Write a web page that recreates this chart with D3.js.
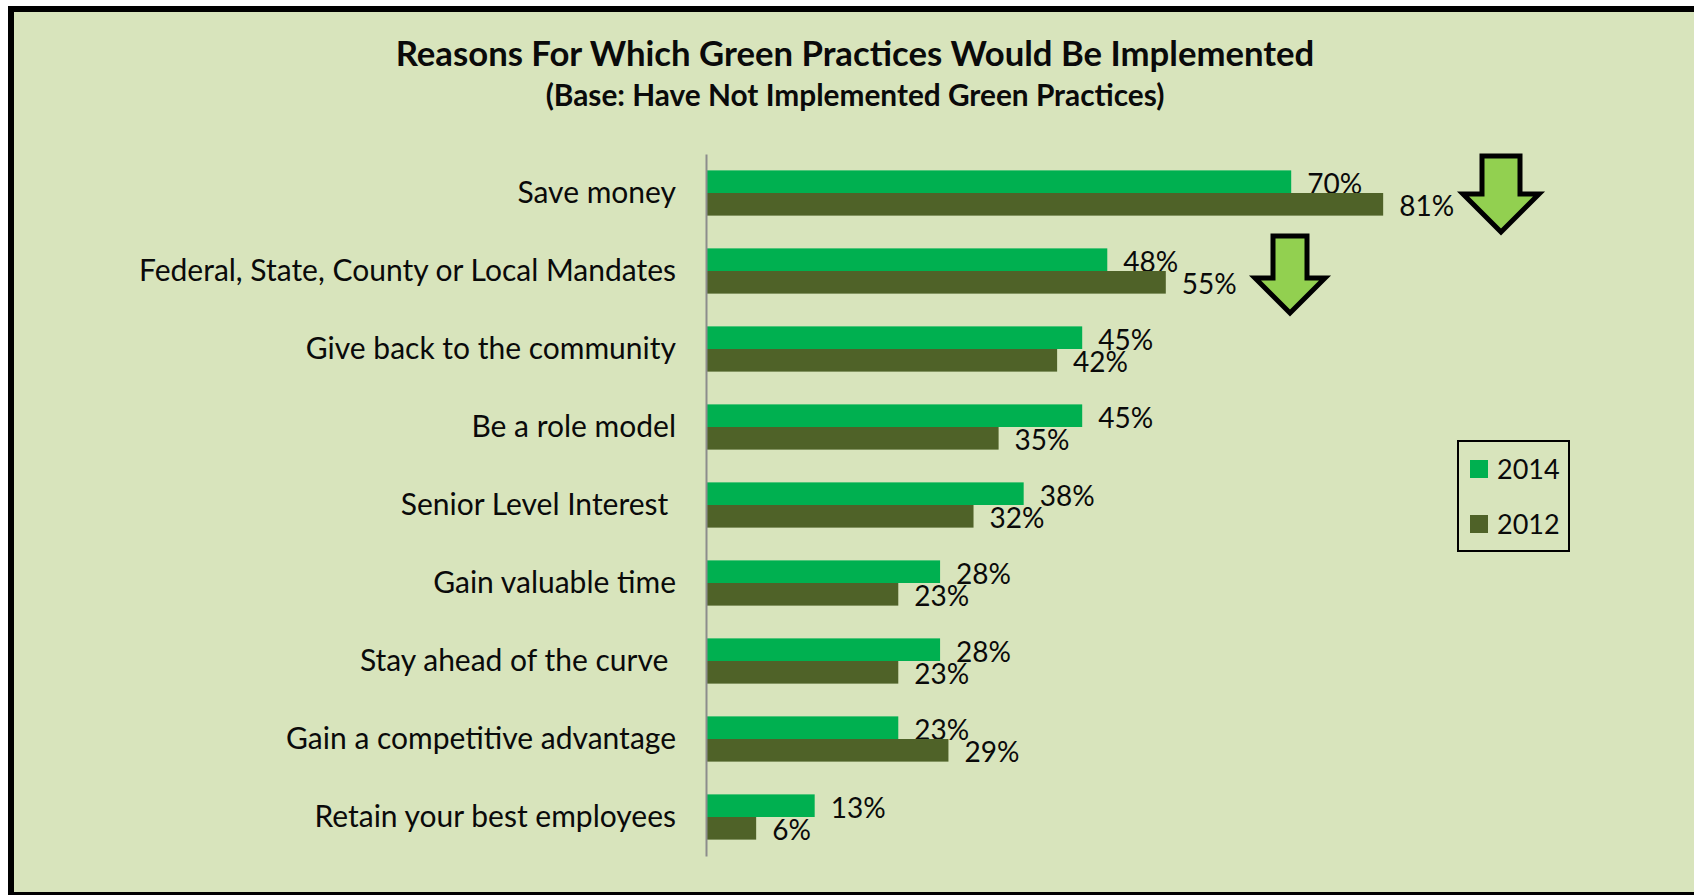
<!DOCTYPE html>
<html>
<head>
<meta charset="utf-8">
<script src="https://cdn.jsdelivr.net/npm/d3@7"></script>
<style>
  html, body { margin: 0; padding: 0; background: #fff; }
  svg { display: block; }
  text { font-family: Lato, "Open Sans", sans-serif; fill: #0a0a0a; }
</style>
</head>
<body>
<svg id="chart" width="1694" height="895"></svg>
<script>
const categories = [
  "Save money",
  "Federal, State, County or Local Mandates",
  "Give back to the community",
  "Be a role model",
  "Senior Level Interest ",
  "Gain valuable time",
  "Stay ahead of the curve ",
  "Gain a competitive advantage",
  "Retain your best employees"
];
const seriesNames = ["2014", "2012"];
const values2014 = [70, 48, 45, 45, 38, 28, 28, 23, 13];
const values2012 = [81, 55, 42, 35, 32, 23, 23, 29, 6];
const seriesColors = ["#00b050", "#4f6228"];
const titleLines = [
  "Reasons For Which Green Practices Would Be Implemented",
  "(Base: Have Not Implemented Green Practices)"
];
// Rows marked with a down arrow beside their bars
const arrowRows = [
  { category: "Save money", cx: 1501, top: 156, halfWidth: 38, stemHalf: 19, neck: 194, tip: 232 },
  { category: "Federal, State, County or Local Mandates", cx: 1290, top: 236, halfWidth: 35, stemHalf: 17, neck: 278, tip: 313 }
];

const svg = d3.select("#chart");

// Panel and its heavy border
svg.append("rect").attr("x", 11).attr("y", 9).attr("width", 1690).attr("height", 886)
  .attr("fill", "#d8e4bc").attr("stroke", "#000").attr("stroke-width", 6);

// Scales
const x = d3.scaleLinear().domain([0, 100]).range([706, 1542]);
const y = d3.scaleBand().domain(categories).range([154, 856]).paddingInner(0.42).paddingOuter(0.21);
const inner = d3.scaleBand().domain(seriesNames).range([0, y.bandwidth()]);

// Title
svg.selectAll("text.title").data(titleLines).join("text")
  .attr("class", "title")
  .attr("x", 855).attr("y", (d, i) => i === 0 ? 66 : 106)
  .attr("text-anchor", "middle")
  .attr("font-weight", 700)
  .attr("font-size", (d, i) => i === 0 ? 34.7 : 29.8)
  .text(d => d);

// Bars and value labels per series
[values2014, values2012].forEach((vals, s) => {
  const g = svg.append("g");
  g.selectAll("rect").data(vals).join("rect")
    .attr("x", x(0))
    .attr("y", (d, i) => y(categories[i]) + inner(seriesNames[s]))
    .attr("width", d => x(d) - x(0))
    .attr("height", inner.bandwidth())
    .attr("fill", seriesColors[s]);
  g.selectAll("text").data(vals).join("text")
    .attr("x", d => x(d) + 16)
    .attr("y", (d, i) => y(categories[i]) + inner(seriesNames[s]) + inner.bandwidth() / 2 + 2)
    .attr("dy", "0.36em")
    .attr("font-size", 28)
    .text(d => d + "%");
});

// Category axis: a plain grey rule with right-aligned labels
const axis = d3.axisLeft(y).tickSize(0).tickPadding(30);
const axisG = svg.append("g").attr("transform", `translate(${x(0)},0)`).call(axis);
axisG.select(".domain").attr("stroke", "#8c8c8c").attr("stroke-width", 2);
axisG.selectAll("text")
  .attr("font-size", 30)
  .attr("font-family", "Lato")
  .attr("fill", "#0a0a0a")
  .attr("dy", "0.34em")
  .style("white-space", "pre");

// Down arrows
const arrowLine = d3.line();
svg.selectAll("path.arrow").data(arrowRows).join("path")
  .attr("class", "arrow")
  .attr("d", a => arrowLine([
    [a.cx - a.stemHalf, a.top], [a.cx + a.stemHalf, a.top], [a.cx + a.stemHalf, a.neck],
    [a.cx + a.halfWidth, a.neck], [a.cx, a.tip], [a.cx - a.halfWidth, a.neck],
    [a.cx - a.stemHalf, a.neck]
  ]) + "Z")
  .attr("fill", "#92d050").attr("stroke", "#000").attr("stroke-width", 5);

// Legend
const legend = svg.append("g");
legend.append("rect").attr("x", 1458).attr("y", 441).attr("width", 111).attr("height", 110)
  .attr("fill", "none").attr("stroke", "#000").attr("stroke-width", 2);
seriesNames.forEach((name, i) => {
  const top = 460 + i * 55;
  legend.append("rect").attr("x", 1470).attr("y", top).attr("width", 18).attr("height", 18)
    .attr("fill", seriesColors[i]);
  legend.append("text").attr("x", 1497).attr("y", top + 9).attr("dy", "0.36em")
    .attr("font-size", 27).text(name);
});
</script>
</body>
</html>
